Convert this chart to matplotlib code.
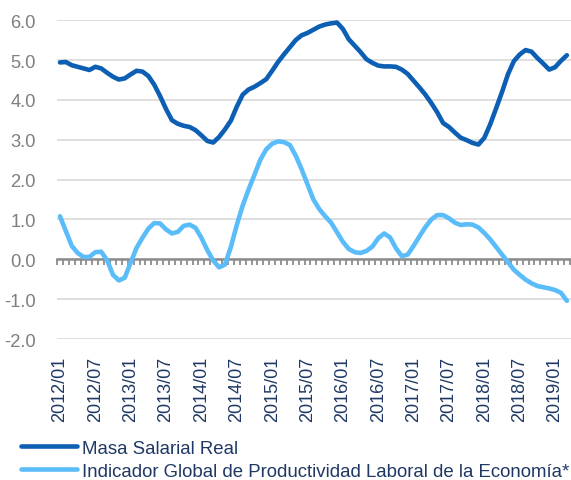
import numpy as np
import matplotlib.pyplot as plt
from matplotlib.ticker import MultipleLocator, FuncFormatter

plt.rcParams['font.family'] = ['Liberation Sans', 'DejaVu Sans']

# monthly series, 2012/01 to 2019/03
masa_salarial = [
    4.94, 4.95, 4.87, 4.83, 4.79, 4.75, 4.83, 4.79, 4.68, 4.58, 4.51, 4.54,
    4.64, 4.73, 4.71, 4.60, 4.38, 4.09, 3.77, 3.49, 3.40, 3.35, 3.32, 3.24,
    3.11, 2.97, 2.93, 3.07, 3.26, 3.48, 3.83, 4.13, 4.26, 4.33, 4.42, 4.52,
    4.73, 4.95, 5.14, 5.32, 5.50, 5.62, 5.68, 5.76, 5.84, 5.89, 5.92, 5.94,
    5.78, 5.52, 5.36, 5.20, 5.02, 4.93, 4.86, 4.84, 4.84, 4.83, 4.76, 4.65,
    4.48, 4.31, 4.13, 3.92, 3.69, 3.42, 3.32, 3.18, 3.05, 2.99, 2.92, 2.88,
    3.05, 3.39, 3.79, 4.20, 4.64, 4.97, 5.14, 5.25, 5.21, 5.05, 4.91, 4.76,
    4.82, 4.98, 5.12,
]
productividad = [
    1.08, 0.71, 0.34, 0.16, 0.06, 0.06, 0.18, 0.19, -0.02, -0.39, -0.53, -0.46,
    -0.08, 0.29, 0.54, 0.77, 0.91, 0.90, 0.75, 0.65, 0.69, 0.84, 0.87, 0.79,
    0.54, 0.23, -0.03, -0.20, -0.13, 0.31, 0.86, 1.35, 1.75, 2.12, 2.50, 2.76,
    2.90, 2.96, 2.94, 2.87, 2.60, 2.26, 1.88, 1.50, 1.26, 1.08, 0.92, 0.68,
    0.44, 0.26, 0.18, 0.16, 0.21, 0.32, 0.53, 0.65, 0.55, 0.28, 0.08, 0.12,
    0.34, 0.58, 0.81, 1.00, 1.11, 1.11, 1.03, 0.92, 0.86, 0.88, 0.87, 0.80,
    0.66, 0.50, 0.31, 0.12, -0.07, -0.26, -0.39, -0.51, -0.60, -0.67, -0.70, -0.73,
    -0.77, -0.84, -1.04,
]
start_year = 2012

n = len(masa_salarial)
x = np.arange(n)
labels = [f"{start_year + i // 12}/{i % 12 + 1:02d}" for i in range(n)]

fig = plt.figure(figsize=(5.71, 4.81), dpi=100)
ax = fig.add_axes([0.0993, 0.293, 0.9007, 0.663])

ax.plot(x, masa_salarial, color='#0c5fb3', lw=3.3, solid_capstyle='round',
        label='Masa Salarial Real', zorder=3)
ax.plot(x, productividad, color='#5bbcfa', lw=3.3, solid_capstyle='round',
        label='Indicador Global de Productividad Laboral de la Economía*', zorder=3)

ax.set_ylim(-2, 6)
ax.set_xlim(-0.55, 86.7)
ax.yaxis.set_major_locator(MultipleLocator(1))
ax.yaxis.set_major_formatter(FuncFormatter(lambda v, p: f"{v:.1f}"))
ax.grid(axis='y', color='#d9d9d9', lw=1.2)
ax.set_axisbelow(True)
ax.tick_params(axis='y', length=0, pad=15, labelsize=13.2, labelcolor='#7f7f7f')

for s in ['top', 'right', 'left']:
    ax.spines[s].set_visible(False)
ax.spines['bottom'].set_position(('data', 0))
ax.spines['bottom'].set_color('#8c8c8c')
ax.spines['bottom'].set_linewidth(1.8)
ax.xaxis.set_major_locator(MultipleLocator(1, offset=0.5))
ax.tick_params(axis='x', direction='out', length=4, width=1.3, color='#8c8c8c',
               labelbottom=False)

sec = ax.secondary_xaxis('bottom')
sec.set_xticks(x[::6])
sec.set_xticklabels(labels[::6], rotation=90)
sec.tick_params(length=0, pad=12, labelsize=13, labelcolor='#1f3864')
sec.spines['bottom'].set_visible(False)

fig.legend(loc='center left', bbox_to_anchor=(0.037, 0.042), frameon=False,
           fontsize=13.4, handlelength=3.0, handletextpad=0.28, labelspacing=0.3,
           labelcolor='#1f3864', borderpad=0, borderaxespad=0)

fig.savefig('out.png', dpi=100)
